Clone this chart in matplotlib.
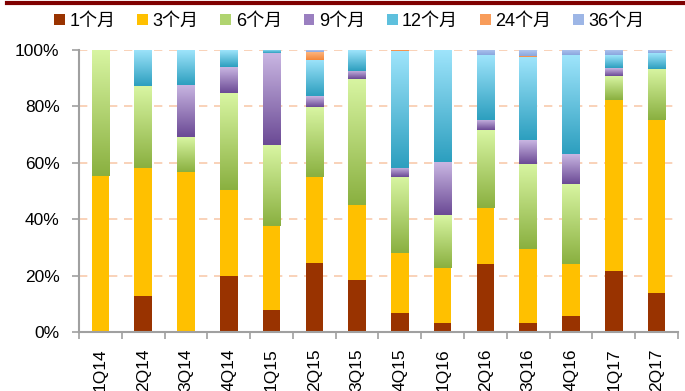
import numpy as np
import matplotlib.pyplot as plt
from matplotlib.colors import LinearSegmentedColormap
from matplotlib.patches import Patch

# Kategori kuartal
kuartal = ['1Q14', '2Q14', '3Q14', '4Q14', '1Q15', '2Q15', '3Q15',
           '4Q15', '1Q16', '2Q16', '3Q16', '4Q16', '1Q17', '2Q17']

# Persentase tiap tenor (%)
bulan_1 = [0, 12.8, 0, 19.9, 7.8, 24.5, 18.4, 6.7, 3.2, 24.1, 3.2, 5.7, 21.6, 13.8]
bulan_3 = [55.3, 45.4, 56.7, 30.5, 29.8, 30.5, 26.6, 21.3, 19.5, 19.9, 26.2, 18.4, 60.7, 61.4]
bulan_6 = [44.7, 29.0, 12.4, 34.4, 28.7, 24.8, 44.7, 27.0, 18.8, 27.6, 30.2, 28.4, 8.5, 18.1]
bulan_9 = [0, 0, 18.5, 9.2, 32.6, 3.9, 2.9, 3.2, 18.8, 3.6, 8.5, 10.6, 2.8, 0]
bulan_12 = [0, 12.8, 12.4, 6.0, 1.1, 12.8, 7.4, 41.4, 39.7, 23.0, 29.4, 35.1, 4.6, 5.6]
bulan_24 = [0, 0, 0, 0, 0, 2.8, 0, 0.4, 0, 0, 0.5, 0, 0, 0]
bulan_36 = [0, 0, 0, 0, 0, 0.7, 0, 0, 0, 1.8, 2.0, 1.8, 1.8, 1.1]

label_seri = ['1个月', '3个月', '6个月', '9个月', '12个月', '24个月', '36个月']
seri = [bulan_1, bulan_3, bulan_6, bulan_9, bulan_12, bulan_24, bulan_36]

# (warna bawah, warna atas) -> gradien vertikal
warna = [('#993300', '#993300'),
         ('#ffc000', '#ffc000'),
         ('#8ab040', '#d8f5a2'),
         ('#6b4a95', '#c9b6e2'),
         ('#2d9fbf', '#9ee4fb'),
         ('#f4873a', '#fcb47e'),
         ('#8aa6de', '#b0c6ef')]
warna_legenda = ['#993300', '#ffc000', '#b0d470', '#9a7fc0', '#5ec0dd', '#f89c5a', '#9db6e6']

plt.rcParams['font.family'] = ['Liberation Sans', 'Noto Sans CJK SC', 'DejaVu Sans']

fig = plt.figure(figsize=(6.85, 3.91), dpi=100)
ax = fig.add_axes([0.1153, 0.151, 0.8745, 0.721])

x = np.arange(len(kuartal))
lebar = 0.41
gradien = np.linspace(0, 1, 100).reshape(-1, 1)
bawah = np.zeros(len(kuartal))

for nilai, (c0, c1) in zip(seri, warna):
    nilai = np.array(nilai, dtype=float)
    if c0 == c1:
        ax.bar(x, nilai, lebar, bottom=bawah, color=c0, zorder=3)
    else:
        cmap = LinearSegmentedColormap.from_list('g', [c0, c1])
        for xi, b, h in zip(x, bawah, nilai):
            if h <= 0:
                continue
            ax.imshow(gradien, extent=(xi - lebar / 2, xi + lebar / 2, b, b + h),
                      origin='lower', aspect='auto', cmap=cmap, zorder=3,
                      interpolation='bilinear')
    bawah += nilai

ax.set_xlim(-0.5, len(kuartal) - 0.5)
ax.set_ylim(0, 100)

# Grid putus-putus
for yv in [20, 40, 60, 80, 100]:
    ax.axhline(yv, color='#f8cbad', linestyle=(0, (5, 4)), linewidth=1.2, zorder=1)

ax.set_yticks([0, 20, 40, 60, 80, 100])
ax.set_yticklabels(['0%', '20%', '40%', '60%', '80%', '100%'], fontsize=12.5)
ax.tick_params(axis='y', length=5, color='#a0a0a0', width=1.2, pad=9)

ax.set_xticks(x)
ax.set_xticklabels(kuartal, rotation=90, fontsize=12.5)
ax.tick_params(axis='x', which='major', length=0, pad=12)
ax.set_xticks(np.arange(-0.5, len(kuartal)), minor=True)
ax.tick_params(axis='x', which='minor', length=5, color='#a0a0a0', width=1.2)

for s in ['top', 'right']:
    ax.spines[s].set_visible(False)
for s in ['bottom', 'left']:
    ax.spines[s].set_color('#a0a0a0')
    ax.spines[s].set_linewidth(1.5)
    ax.spines[s].set_zorder(4)

# Garis merah di atas
fig.add_artist(plt.Line2D([0.01, 1.0], [0.992, 0.992], color='#7f0000', linewidth=3,
                          transform=fig.transFigure))

# Legenda
handles = [Patch(facecolor=c, edgecolor='none') for c in warna_legenda]
fig.legend(handles, label_seri, loc='center', bbox_to_anchor=(0.51, 0.945), ncol=7,
           frameon=False, fontsize=13, handlelength=0.6, handleheight=0.6,
           handletextpad=0.25, columnspacing=1.2)

fig.savefig('out.png', dpi=100)
